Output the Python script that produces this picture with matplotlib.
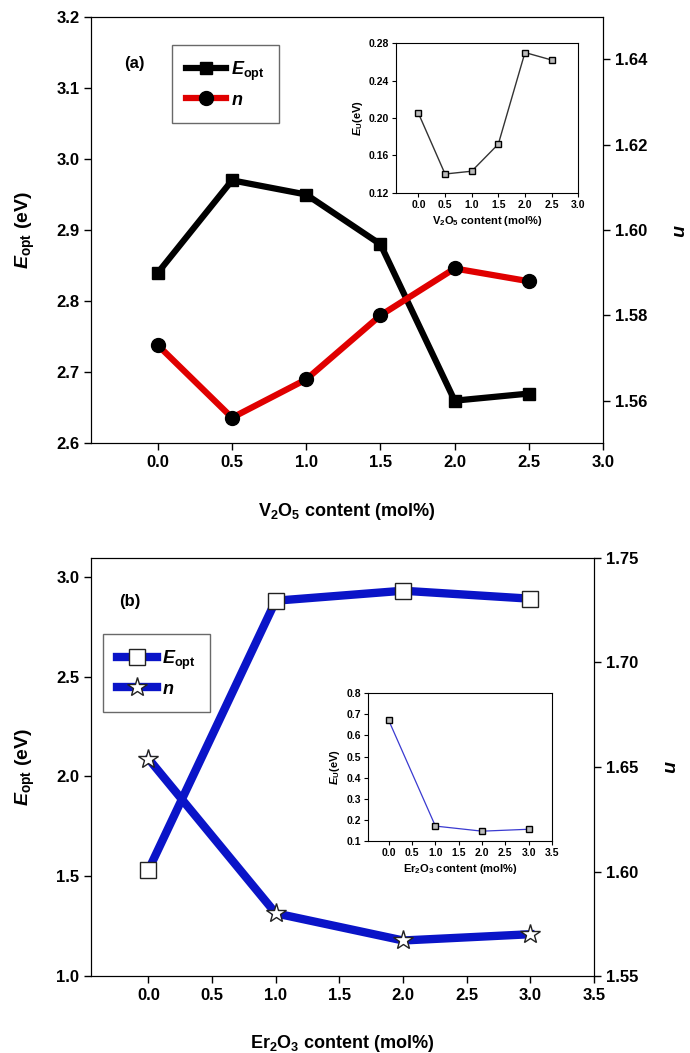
import matplotlib
matplotlib.use("Agg")
import matplotlib.pyplot as plt

plt.rcParams['font.family'] = ['Liberation Sans', 'DejaVu Sans']
plt.rcParams['font.weight'] = 'bold'
plt.rcParams['mathtext.fontset'] = 'custom'
plt.rcParams['mathtext.rm'] = 'Liberation Sans'
plt.rcParams['mathtext.it'] = 'Liberation Sans:bold:italic'
plt.rcParams['mathtext.bf'] = 'Liberation Sans:bold'

# panel (a): V2O5
v2o5 = [0.0, 0.5, 1.0, 1.5, 2.0, 2.5]
eopt_a = [2.84, 2.97, 2.95, 2.88, 2.66, 2.67]
n_a = [1.573, 1.556, 1.565, 1.580, 1.591, 1.588]
eu_a = [0.205, 0.140, 0.143, 0.172, 0.270, 0.262]

# panel (b): Er2O3
er2o3 = [0.0, 1.0, 2.0, 3.0]
eopt_b = [1.53, 2.88, 2.93, 2.89]
n_b = [1.654, 1.580, 1.567, 1.570]
eu_b = [0.67, 0.172, 0.148, 0.157]

fig = plt.figure(figsize=(6.9, 10.53), dpi=100)

BLUE = '#0a14c8'


def style_main(ax, size=12):
    ax.tick_params(direction='out', length=5, width=1, labelsize=size)
    for lab in ax.get_xticklabels() + ax.get_yticklabels():
        lab.set_fontweight('bold')


def style_inset(ax):
    ax.tick_params(direction='out', length=3, width=0.8, labelsize=7.5, pad=2)
    for lab in ax.get_xticklabels() + ax.get_yticklabels():
        lab.set_fontweight('bold')
    for s in ax.spines.values():
        s.set_linewidth(0.8)


# ---------- panel (a) ----------
ax1 = fig.add_axes([0.132, 0.579, 0.742, 0.405])
ax1.plot(v2o5, eopt_a, '-s', color='black', lw=4.5, ms=9, label=r'$\mathit{E}_{\mathrm{opt}}$')
ax1.set_xlim(-0.45, 3.0)
ax1.set_ylim(2.6, 3.2)
ax1.set_xticks([0.0, 0.5, 1.0, 1.5, 2.0, 2.5, 3.0])
ax1.set_xticklabels(['0.0', '0.5', '1.0', '1.5', '2.0', '2.5', '3.0'])
ax1.set_yticks([2.6, 2.7, 2.8, 2.9, 3.0, 3.1, 3.2])
ax1.set_yticklabels(['2.6', '2.7', '2.8', '2.9', '3.0', '3.1', '3.2'])
ax1.set_xlabel(r'V$_\mathbf{2}$O$_\mathbf{5}$ content (mol%)', fontsize=13, fontweight='bold', labelpad=22)
ax1.set_ylabel(r'$\mathit{E}_{\mathbf{opt}}$ (eV)', fontsize=14, fontweight='bold', labelpad=14)
style_main(ax1)

ax1r = ax1.twinx()
ax1r.plot(v2o5, n_a, '-o', color='#e00000', lw=4.5, ms=10, mfc='black', mec='black', label=r'$\mathit{n}$')
ax1r.set_ylim(1.55, 1.65)
ax1r.set_yticks([1.56, 1.58, 1.60, 1.62, 1.64])
ax1r.set_yticklabels(['1.56', '1.58', '1.60', '1.62', '1.64'])
ax1r.set_ylabel(r'$\mathit{n}$', fontsize=14, rotation=270, labelpad=28)
style_main(ax1r)

h1, l1 = ax1.get_legend_handles_labels()
h2, l2 = ax1r.get_legend_handles_labels()
leg = ax1r.legend(h1 + h2, l1 + l2, loc='upper left', bbox_to_anchor=(0.14, 0.955),
                  fancybox=False, edgecolor='#444444', fontsize=13, handlelength=2.2,
                  borderpad=0.8, labelspacing=0.5, handletextpad=0.3)
leg.get_frame().set_linewidth(1)
ax1r.text(0.065, 0.88, '(a)', transform=ax1.transAxes, fontsize=12, fontweight='bold')

ins1 = fig.add_axes([0.574, 0.817, 0.264, 0.142])
ins1.plot(v2o5, eu_a, '-s', color='#333333', lw=1, ms=5, mfc='#bbbbbb', mec='black', mew=1)
ins1.set_xlim(-0.42, 3.0)
ins1.set_ylim(0.12, 0.28)
ins1.set_xticks([0.0, 0.5, 1.0, 1.5, 2.0, 2.5, 3.0])
ins1.set_xticklabels(['0.0', '0.5', '1.0', '1.5', '2.0', '2.5', '3.0'])
ins1.set_yticks([0.12, 0.16, 0.20, 0.24, 0.28])
ins1.set_yticklabels(['0.12', '0.16', '0.20', '0.24', '0.28'])
ins1.set_xlabel(r'V$_\mathbf{2}$O$_\mathbf{5}$ content (mol%)', fontsize=8, fontweight='bold', labelpad=3)
ins1.set_ylabel(r'$\mathit{E}_{\mathbf{U}}$(eV)', fontsize=8, fontweight='bold', labelpad=3)
style_inset(ins1)

# ---------- panel (b) ----------
ax2 = fig.add_axes([0.132, 0.0731, 0.729, 0.397])
ax2.plot(er2o3, eopt_b, '-s', color=BLUE, lw=6, ms=11, mfc='white', mec='#222222', mew=1,
         label=r'$\mathit{E}_{\mathrm{opt}}$')
ax2.set_xlim(-0.45, 3.5)
ax2.set_ylim(1.0, 3.094)
ax2.set_xticks([0.0, 0.5, 1.0, 1.5, 2.0, 2.5, 3.0, 3.5])
ax2.set_xticklabels(['0.0', '0.5', '1.0', '1.5', '2.0', '2.5', '3.0', '3.5'])
ax2.set_yticks([1.0, 1.5, 2.0, 2.5, 3.0])
ax2.set_yticklabels(['1.0', '1.5', '2.0', '2.5', '3.0'])
ax2.set_xlabel(r'Er$_\mathbf{2}$O$_\mathbf{3}$ content (mol%)', fontsize=13, fontweight='bold', labelpad=22)
ax2.set_ylabel(r'$\mathit{E}_{\mathbf{opt}}$ (eV)', fontsize=14, fontweight='bold', labelpad=14)
style_main(ax2)

ax2r = ax2.twinx()
ax2r.plot(er2o3, n_b, '-*', color=BLUE, lw=6, ms=15, mfc='white', mec='#222222', mew=1,
          label=r'$\mathit{n}$')
ax2r.set_ylim(1.55, 1.75)
ax2r.set_yticks([1.55, 1.60, 1.65, 1.70, 1.75])
ax2r.set_yticklabels(['1.55', '1.60', '1.65', '1.70', '1.75'])
ax2r.set_ylabel(r'$\mathit{n}$', fontsize=14, rotation=270, labelpad=28)
style_main(ax2r)

h1, l1 = ax2.get_legend_handles_labels()
h2, l2 = ax2r.get_legend_handles_labels()
leg = ax2r.legend(h1 + h2, l1 + l2, loc='upper left', bbox_to_anchor=(0.005, 0.84),
                  fancybox=False, edgecolor='#444444', fontsize=13, handlelength=2.2,
                  borderpad=0.8, labelspacing=0.5, handletextpad=0.3)
leg.get_frame().set_linewidth(1)
ax2r.text(0.055, 0.885, '(b)', transform=ax2.transAxes, fontsize=12, fontweight='bold')

ins2 = fig.add_axes([0.533, 0.201, 0.267, 0.141])
ins2.plot(er2o3, eu_b, '-s', color='#3a3ad0', lw=0.9, ms=5, mfc='#bbbbbb', mec='black', mew=1)
ins2.set_xlim(-0.45, 3.5)
ins2.set_ylim(0.1, 0.8)
ins2.set_xticks([0.0, 0.5, 1.0, 1.5, 2.0, 2.5, 3.0, 3.5])
ins2.set_xticklabels(['0.0', '0.5', '1.0', '1.5', '2.0', '2.5', '3.0', '3.5'])
ins2.set_yticks([0.1, 0.2, 0.3, 0.4, 0.5, 0.6, 0.7, 0.8])
ins2.set_yticklabels(['0.1', '0.2', '0.3', '0.4', '0.5', '0.6', '0.7', '0.8'])
ins2.set_xlabel(r'Er$_\mathbf{2}$O$_\mathbf{3}$ content (mol%)', fontsize=8, fontweight='bold', labelpad=3)
ins2.set_ylabel(r'$\mathit{E}_{\mathbf{U}}$(eV)', fontsize=8, fontweight='bold', labelpad=3)
style_inset(ins2)

fig.savefig('out.png', dpi=100)
